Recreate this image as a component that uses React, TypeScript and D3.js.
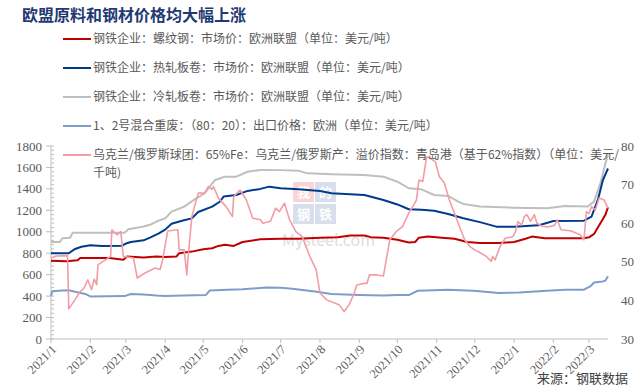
import React from 'react';
import * as d3 from 'd3';

// values
const rebar: [string, number][] = [
  ['2021-01-01', 730], ['2021-01-13', 725], ['2021-01-22', 735], ['2021-01-24', 755],
  ['2021-02-16', 755], ['2021-02-27', 740], ['2021-03-02', 770], ['2021-03-15', 760],
  ['2021-03-25', 770], ['2021-04-01', 765], ['2021-04-10', 770], ['2021-04-12', 800],
  ['2021-04-22', 815], ['2021-05-01', 838], ['2021-05-08', 847], ['2021-05-13', 868],
  ['2021-05-18', 878], ['2021-05-25', 868], ['2021-06-01', 905], ['2021-06-15', 930],
  ['2021-07-01', 935], ['2021-07-15', 935], ['2021-08-01', 945], ['2021-08-15', 950],
  ['2021-08-25', 965], ['2021-09-05', 965], ['2021-09-10', 950], ['2021-09-20', 945],
  ['2021-10-01', 925], ['2021-10-10', 900], ['2021-10-15', 905], ['2021-10-18', 945],
  ['2021-10-25', 955], ['2021-11-05', 945], ['2021-11-15', 935], ['2021-11-25', 905],
  ['2021-12-05', 895], ['2021-12-20', 895], ['2022-01-01', 905], ['2022-01-10', 935],
  ['2022-01-15', 955], ['2022-01-25', 940], ['2022-02-10', 940], ['2022-02-25', 940],
  ['2022-03-01', 948], ['2022-03-05', 980], ['2022-03-08', 1040], ['2022-03-12', 1120],
  ['2022-03-14', 1160], ['2022-03-16', 1230],
];

const hotRolled: [string, number][] = [
  ['2021-01-01', 800], ['2021-01-15', 800], ['2021-01-20', 840], ['2021-01-25', 860],
  ['2021-02-01', 875], ['2021-02-10', 868], ['2021-02-26', 870], ['2021-03-01', 890],
  ['2021-03-05', 905], ['2021-03-15', 920], ['2021-03-20', 945], ['2021-03-27', 985],
  ['2021-04-01', 1020], ['2021-04-06', 1075], ['2021-04-15', 1105], ['2021-04-22', 1125],
  ['2021-04-27', 1185], ['2021-05-08', 1235], ['2021-05-14', 1280], ['2021-05-17', 1328],
  ['2021-05-27', 1343], ['2021-06-05', 1381], ['2021-06-15', 1400], ['2021-06-22', 1421],
  ['2021-07-01', 1405], ['2021-07-15', 1396], ['2021-08-01', 1380], ['2021-08-10', 1359],
  ['2021-09-01', 1345], ['2021-09-05', 1343], ['2021-09-20', 1297], ['2021-10-01', 1255],
  ['2021-10-10', 1210], ['2021-10-20', 1205], ['2021-10-30', 1197], ['2021-11-10', 1166],
  ['2021-11-22', 1126], ['2021-12-05', 1090], ['2021-12-18', 1048], ['2022-01-01', 1048],
  ['2022-01-20', 1060], ['2022-01-26', 1080], ['2022-02-01', 1100], ['2022-02-25', 1104],
  ['2022-03-03', 1141], ['2022-03-08', 1297], ['2022-03-12', 1483], ['2022-03-16', 1590],
];

const coldRolled: [string, number][] = [
  ['2021-01-01', 905], ['2021-01-08', 905], ['2021-01-10', 940], ['2021-01-16', 945],
  ['2021-01-18', 990], ['2021-02-28', 990], ['2021-03-03', 1024], ['2021-03-15', 1050],
  ['2021-03-20', 1065], ['2021-03-26', 1100], ['2021-04-01', 1125], ['2021-04-06', 1188],
  ['2021-04-16', 1235], ['2021-04-24', 1300], ['2021-05-02', 1359], ['2021-05-10', 1480],
  ['2021-05-18', 1514], ['2021-05-27', 1514], ['2021-06-05', 1560], ['2021-06-15', 1576],
  ['2021-07-01', 1575], ['2021-07-15', 1570], ['2021-07-22', 1545], ['2021-08-10', 1536],
  ['2021-09-05', 1530], ['2021-09-20', 1514], ['2021-10-01', 1467], ['2021-10-10', 1406],
  ['2021-10-20', 1396], ['2021-10-30', 1343], ['2021-11-10', 1334], ['2021-11-18', 1281],
  ['2021-11-22', 1260], ['2021-12-05', 1235], ['2021-12-31', 1225], ['2022-01-27', 1220],
  ['2022-02-10', 1241], ['2022-02-28', 1235], ['2022-03-05', 1281], ['2022-03-10', 1452],
  ['2022-03-14', 1640], ['2022-03-16', 1720],
];

const scrap: [string, number][] = [
  ['2021-01-01', 400], ['2021-01-02', 445], ['2021-01-10', 452], ['2021-01-15', 455],
  ['2021-01-20', 440], ['2021-01-28', 420], ['2021-02-01', 397], ['2021-02-28', 400],
  ['2021-03-05', 420], ['2021-03-15', 415], ['2021-03-25', 405], ['2021-04-01', 400],
  ['2021-04-15', 405], ['2021-05-03', 410], ['2021-05-06', 452], ['2021-05-20', 460],
  ['2021-06-01', 465], ['2021-06-20', 480], ['2021-07-01', 478], ['2021-07-10', 468],
  ['2021-07-28', 443], ['2021-08-10', 419], ['2021-09-01', 410], ['2021-09-20', 406],
  ['2021-10-01', 410], ['2021-10-10', 410], ['2021-10-17', 450], ['2021-11-10', 459],
  ['2021-11-30', 450], ['2021-12-20', 430], ['2022-01-05', 434], ['2022-01-27', 450],
  ['2022-02-10', 459], ['2022-02-25', 460], ['2022-03-02', 490], ['2022-03-05', 527],
  ['2022-03-12', 537], ['2022-03-14', 545], ['2022-03-16', 585],
];

const pellet: [string, number][] = [
  ['2021-01-01', 51.0], ['2021-01-05', 51.5], ['2021-01-14', 51.6], ['2021-01-15', 37.8],
  ['2021-01-20', 40.2], ['2021-01-24', 42.3], ['2021-01-27', 43.2], ['2021-01-30', 45.3],
  ['2021-02-02', 42.8], ['2021-02-04', 45.5], ['2021-02-06', 44.1], ['2021-02-07', 49.2],
  ['2021-02-17', 51.4], ['2021-02-18', 58.3], ['2021-02-22', 57.0], ['2021-02-25', 57.8],
  ['2021-02-27', 51.4], ['2021-03-07', 51.0], ['2021-03-10', 45.8], ['2021-03-16', 47.1],
  ['2021-03-21', 47.9], ['2021-03-24', 48.4], ['2021-03-28', 48.0], ['2021-03-30', 50.5],
  ['2021-04-03', 58.0], ['2021-04-11', 58.3], ['2021-04-12', 53.1], ['2021-04-16', 53.1],
  ['2021-04-18', 46.6], ['2021-04-19', 51.0], ['2021-04-22', 61.7], ['2021-04-27', 67.8],
  ['2021-05-02', 67.8], ['2021-05-05', 69.5], ['2021-05-08', 68.8], ['2021-05-09', 69.5],
  ['2021-05-13', 66.5], ['2021-05-19', 64.3], ['2021-05-24', 61.7], ['2021-05-25', 66.9],
  ['2021-05-30', 68.6], ['2021-06-04', 66.0], ['2021-06-09', 61.3], ['2021-06-15', 60.9],
  ['2021-06-17', 60.0], ['2021-06-23', 60.5], ['2021-06-27', 63.9], ['2021-06-30', 63.0],
  ['2021-07-04', 65.2], ['2021-07-08', 60.9], ['2021-07-13', 57.8], ['2021-07-18', 56.5],
  ['2021-07-24', 51.4], ['2021-07-29', 47.9], ['2021-08-01', 41.9], ['2021-08-06', 40.2],
  ['2021-08-11', 39.5], ['2021-08-16', 38.9], ['2021-08-20', 37.1], ['2021-08-24', 38.9],
  ['2021-08-28', 41.9], ['2021-08-30', 44.0], ['2021-09-04', 44.4], ['2021-09-07', 44.4],
  ['2021-09-09', 46.6], ['2021-09-15', 46.6], ['2021-09-20', 46.3], ['2021-09-25', 55.7],
  ['2021-09-30', 57.8], ['2021-10-05', 59.1], ['2021-10-10', 62.6], ['2021-10-16', 66.0],
  ['2021-10-18', 71.2], ['2021-10-21', 70.8], ['2021-10-24', 77.2], ['2021-10-27', 76.8],
  ['2021-10-31', 75.9], ['2021-11-03', 72.1], ['2021-11-07', 70.4], ['2021-11-11', 66.0],
  ['2021-11-15', 62.6], ['2021-11-19', 59.1], ['2021-11-23', 55.7], ['2021-11-27', 54.0],
  ['2021-12-01', 53.1], ['2021-12-06', 52.2], ['2021-12-10', 51.4], ['2021-12-14', 50.1],
  ['2021-12-15', 51.4], ['2021-12-17', 50.5], ['2021-12-21', 54.0], ['2021-12-25', 56.1],
  ['2021-12-31', 56.5], ['2022-01-02', 57.8], ['2022-01-04', 60.4], ['2022-01-07', 59.5],
  ['2022-01-09', 61.7], ['2022-01-11', 62.2], ['2022-01-14', 60.5], ['2022-01-17', 62.2],
  ['2022-01-19', 60.0], ['2022-01-23', 59.2], ['2022-01-28', 59.0], ['2022-02-02', 59.5],
  ['2022-02-04', 60.9], ['2022-02-07', 58.3], ['2022-02-15', 58.0], ['2022-02-22', 57.0],
  ['2022-02-25', 55.7], ['2022-02-27', 63.0], ['2022-03-01', 62.5], ['2022-03-03', 64.3],
  ['2022-03-06', 63.4], ['2022-03-09', 66.5], ['2022-03-13', 66.0], ['2022-03-16', 63.9],
];

const legendLabels = [
  '钢铁企业：螺纹钢：市场价：欧洲联盟（单位：美元/吨）',
  '钢铁企业：热轧板卷：市场价：欧洲联盟（单位：美元/吨）',
  '钢铁企业：冷轧板卷：市场价：欧洲联盟（单位：美元/吨）',
  '1、2号混合重废：（80：20）：出口价格：欧洲（单位：美元/吨）',
  '乌克兰/俄罗斯球团：65%Fe：乌克兰/俄罗斯产：溢价指数：青岛港（基于62%指数）（单位：美元/',
];
const legendWrap = '千吨)';
const leftTicks = [0, 200, 400, 600, 800, 1000, 1200, 1400, 1600, 1800];
const rightTicks = [30, 40, 50, 60, 70, 80];

const parse = d3.timeParse('%Y-%m-%d');
const fmt = d3.timeFormat('%Y/%-m');
const cjk = '"Noto Sans CJK SC", sans-serif';
const serif = '"Liberation Serif", "Times New Roman", serif';

const App = () => {
  const x = d3.scaleTime()
    .domain([parse('2021-01-01')!, parse('2022-03-16')!])
    .range([51, 608]);
  const yL = d3.scaleLinear().domain([0, 1800]).range([339, 146]);
  const yR = d3.scaleLinear().domain([30, 80]).range([339, 146]);

  const lineL = d3.line<[string, number]>().x((d) => x(parse(d[0])!)).y((d) => yL(d[1]));
  const lineR = d3.line<[string, number]>().x((d) => x(parse(d[0])!)).y((d) => yR(d[1]));

  const months = d3.timeMonth.range(parse('2021-01-01')!, parse('2022-03-02')!);
  const minor = d3.range(0, 1801, 40);

  const series = [
    { data: scrap, color: '#7f9dcb', w: 2, axis: 'L' },
    { data: rebar, color: '#c00000', w: 2, axis: 'L' },
    { data: coldRolled, color: '#bfbfbf', w: 2, axis: 'L' },
    { data: hotRolled, color: '#003a8c', w: 2, axis: 'L' },
    { data: pellet, color: '#f49ca6', w: 1.6, axis: 'R' },
  ];
  const legendColors = ['#c00000', '#003a8c', '#bfbfbf', '#7f9dcb', '#f49ca6'];

  return (
    <svg width={636} height={389} style={{ position: 'absolute', left: 0, top: 0, background: '#fff' }}>
      <text x={22} y={21} fontFamily={cjk} fontSize={16} fontWeight="bold" fill="#1f3a73">
        欧盟原料和钢材价格均大幅上涨
      </text>

      {/* watermark */}
      <g opacity={0.45}>
        <rect x={293} y={182} width={21} height={20} fill="#f3a3a3" />
        <rect x={315} y={182} width={21} height={20} fill="#a9b7d6" />
        <rect x={293} y={204} width={21} height={20} fill="#a9b7d6" />
        <rect x={315} y={204} width={21} height={20} fill="#a9b7d6" />
        {['我', '的', '钢', '铁'].map((c, i) => (
          <text key={c} x={303.5 + (i % 2) * 22} y={197 + Math.floor(i / 2) * 22} textAnchor="middle"
            fontFamily={cjk} fontSize={13} fontWeight="bold" fill="#fff">{c}</text>
        ))}
        <text x={282} y={246} fontFamily={cjk} fontSize={16} fill="#b5b5b5">Mysteel.com</text>
      </g>

      {/* left axis */}
      <line x1={51} x2={51} y1={146} y2={339} stroke="#bfbfbf" />
      {minor.map((v) => (
        <line key={'m' + v} x1={51} x2={54} y1={yL(v)} y2={yL(v)} stroke="#bfbfbf" />
      ))}
      {leftTicks.map((v) => (
        <g key={'l' + v}>
          <line x1={46} x2={51} y1={yL(v)} y2={yL(v)} stroke="#bfbfbf" />
          <text x={42} y={yL(v)} dy="0.35em" textAnchor="end" fontFamily={serif} fontSize={13} fill="#595959">{v}</text>
        </g>
      ))}
      {rightTicks.map((v) => (
        <text key={'r' + v} x={621} y={yR(v)} dy="0.35em" fontFamily={serif} fontSize={13} fill="#595959">{v}</text>
      ))}

      {/* x axis */}
      <line x1={51} x2={608} y1={339} y2={339} stroke="#bfbfbf" />
      {months.map((m) => (
        <g key={m.toISOString()}>
          <line x1={x(m)} x2={x(m)} y1={339} y2={343} stroke="#bfbfbf" />
          <text transform={`translate(${x(m) + 3},${347}) rotate(-45)`} textAnchor="end" dy="0.35em"
            fontFamily={serif} fontSize={12.5} fill="#595959">{fmt(m)}</text>
        </g>
      ))}

      {/* lines */}
      {series.map((s, i) => (
        <path key={i} d={(s.axis === 'L' ? lineL : lineR)(s.data) || ''} fill="none"
          stroke={s.color} strokeWidth={s.w} strokeLinejoin="round" />
      ))}

      {/* legend */}
      {legendLabels.map((t, i) => (
        <g key={t}>
          <line x1={63} x2={91} y1={39 + i * 29} y2={39 + i * 29} stroke={legendColors[i]} strokeWidth={2} />
          <text x={93} y={39 + i * 29} dy="0.36em" fontFamily={cjk} fontSize={12} fill="#595959">{t}</text>
        </g>
      ))}
      <text x={93} y={172.5} dy="0.36em" fontFamily={cjk} fontSize={12} fill="#595959">{legendWrap}</text>

      <text x={537} y={378} dy="0.36em" fontFamily={cjk} fontSize={13} fill="#404040">来源：钢联数据</text>
    </svg>
  );
};

export default App;
